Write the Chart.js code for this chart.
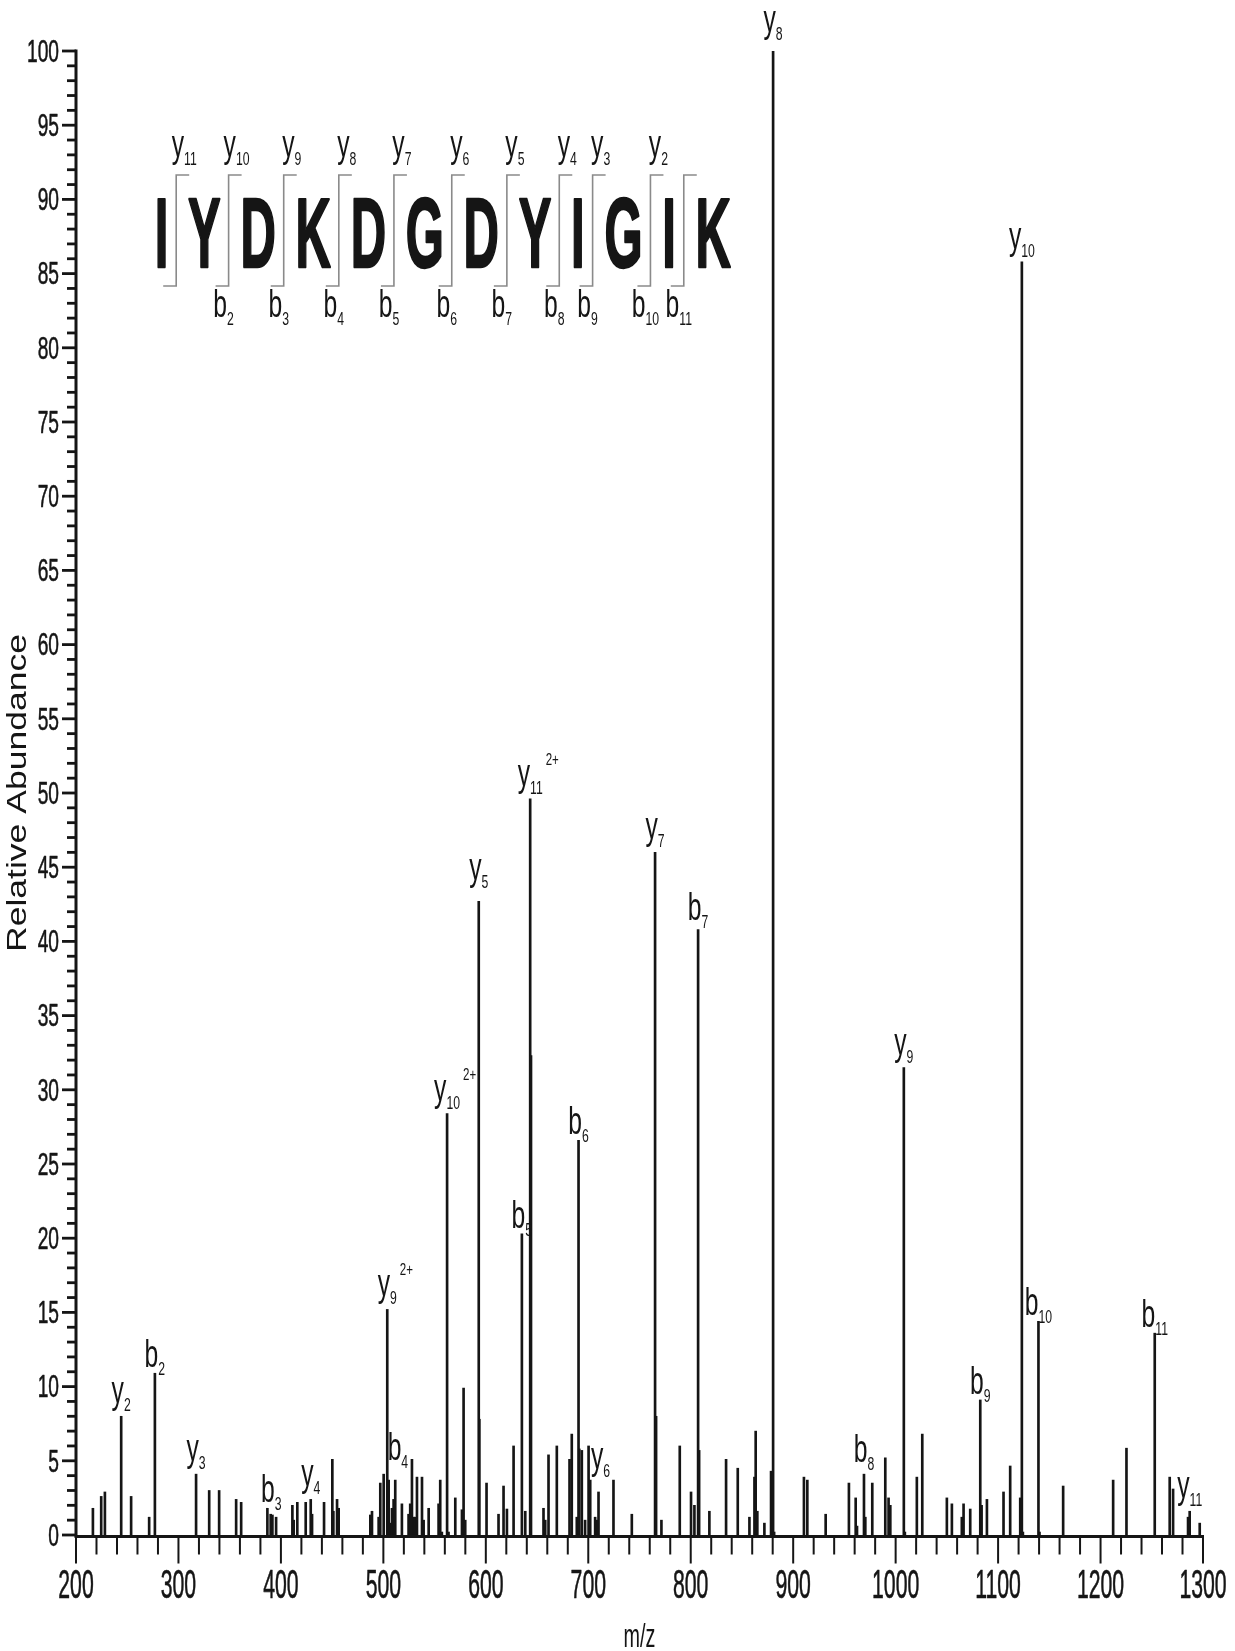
<!DOCTYPE html>
<html>
<head>
<meta charset="utf-8">
<title>MS/MS spectrum IYDKDGDYIGIK</title>
<script src="https://cdn.jsdelivr.net/npm/chart.js@4.4.0/dist/chart.umd.min.js"></script>
<style>
  html, body { margin: 0; padding: 0; background: #ffffff; }
  canvas { display: block; }
</style>
</head>
<body>
<canvas id="spectrum" width="1235" height="1651"></canvas>
<script>
// ---- spectrum data: centroided peaks (m/z, relative abundance %) ----
const peakMz = [
  216.5, 224.6, 228.2, 244.1, 253.8, 271.4, 277.0, 317.2, 330.0, 339.7,
  356.3, 361.2, 386.8, 390.0, 391.7, 395.3, 411.2, 412.5, 416.0, 424.2,
  429.1, 430.4, 442.1, 450.2, 451.2, 454.8, 456.4, 487.3, 488.9, 495.4,
  497.0, 500.3, 503.8, 505.2, 506.8, 508.4, 510.0, 511.6, 518.1, 524.6,
  526.2, 527.9, 529.5, 531.1, 532.8, 537.7, 539.3, 544.2, 553.9, 555.5,
  557.1, 562.2, 563.6, 570.2, 576.7, 578.3, 579.9, 593.1, 593.7, 600.7,
  612.4, 617.3, 620.6, 627.1, 635.2, 638.5, 643.3, 644.1, 656.3, 658.0,
  661.2, 669.3, 681.7, 683.9, 688.8, 690.5, 691.2, 693.7, 696.9, 700.3,
  701.9, 706.7, 708.3, 710.0, 724.6, 742.5, 765.2, 766.2, 771.4, 789.3,
  800.3, 803.6, 807.2, 808.2, 818.2, 834.5, 845.9, 857.3, 862.2, 863.4,
  865.0, 871.9, 878.4, 880.4, 881.4, 910.5, 913.8, 931.7, 954.4, 961.0,
  962.3, 969.1, 970.4, 977.2, 989.9, 993.1, 994.8, 1008.0, 1009.0, 1020.7,
  1026.0, 1050.0, 1054.9, 1064.6, 1066.3, 1072.8, 1082.6, 1083.9, 1089.1, 1105.3,
  1111.8, 1121.6, 1123.2, 1124.2, 1139.4, 1140.4, 1163.5, 1212.3, 1225.3, 1252.9,
  1267.5, 1270.8, 1285.4, 1287.0, 1296.8
];
const peakAbundance = [
  1.8, 2.6, 2.9, 8.0, 2.6, 1.2, 10.9, 4.1, 3.0, 3.0,
  2.4, 2.2, 1.8, 1.4, 1.35, 1.2, 2.0, 1.0, 2.2, 2.2,
  2.4, 1.4, 2.2, 5.1, 1.6, 2.4, 1.8, 1.35, 1.6, 1.2,
  3.5, 4.1, 15.2, 3.7, 0.8, 1.8, 2.4, 3.7, 2.1, 1.4,
  2.1, 5.1, 1.2, 1.2, 3.9, 3.9, 1.0, 1.8, 2.1, 3.7,
  0.2, 28.4, 0.2, 2.5, 1.7, 9.9, 1.0, 42.7, 7.8, 3.5,
  1.4, 3.3, 1.75, 6.0, 20.3, 1.6, 49.6, 32.3, 1.8, 1.0,
  5.4, 6.0, 5.1, 6.8, 1.2, 26.6, 5.8, 5.7, 1.0, 6.0,
  3.7, 1.2, 1.0, 2.9, 3.7, 1.4, 46.0, 8.0, 1.0, 6.0,
  2.9, 2.0, 40.8, 5.7, 1.6, 5.1, 4.5, 1.2, 3.9, 7.0,
  1.6, 0.8, 4.3, 100.0, 0.2, 3.9, 3.7, 1.4, 3.5, 2.5,
  0.6, 4.1, 1.2, 3.5, 5.2, 2.5, 2.0, 31.5, 0.2, 3.9,
  6.8, 2.5, 2.1, 1.2, 2.1, 1.75, 9.1, 2.0, 2.4, 2.9,
  4.65, 2.5, 85.8, 0.2, 14.4, 0.2, 3.3, 3.7, 5.85, 13.6,
  3.9, 3.1, 1.2, 1.6, 0.8
];

// ---- axes ----
const xTickValues = [200, 300, 400, 500, 600, 700, 800, 900, 1000, 1100, 1200, 1300];
const yTickValues = [0, 5, 10, 15, 20, 25, 30, 35, 40, 45, 50, 55, 60, 65, 70, 75, 80, 85, 90, 95, 100];
const xTitle = 'm/z';
const yTitle = 'Relative Abundance';

// ---- assigned fragment ions (series letter, index, charge, m/z, abundance) ----
const ionSeries = ['y', 'b', 'y', 'b', 'y', 'y', 'b', 'y', 'y', 'b', 'y', 'b',
                   'y', 'y', 'b', 'y', 'b', 'y', 'b', 'y', 'b', 'b', 'y'];
const ionNumber = ['2', '2', '3', '3', '4', '9', '4', '10', '5', '5', '11', '6',
                   '6', '7', '7', '8', '8', '9', '9', '10', '10', '11', '11'];
const ionCharge = ['', '', '', '', '', '2+', '', '2+', '', '', '2+', '',
                   '', '', '', '', '', '', '', '', '', '', ''];
const ionMz = [244.1, 277.0, 317.2, 386.8, 429.1, 503.8, 518.1, 562.2, 593.1, 635.2, 643.3, 690.5,
               710.0, 765.2, 807.2, 880.4, 969.1, 1008.0, 1082.6, 1123.2, 1139.4, 1252.9, 1287.0];
const ionAbundance = [8.0, 10.9, 4.1, 1.8, 2.4, 15.2, 2.1, 28.4, 42.7, 20.3, 49.6, 26.6,
                      2.9, 46.0, 40.8, 100.0, 4.1, 31.5, 9.1, 85.8, 14.4, 13.6, 1.6];

// ---- peptide sequence with cleavage labels ----
const residues = ['I', 'Y', 'D', 'K', 'D', 'G', 'D', 'Y', 'I', 'G', 'I', 'K'];
const yFragments = ['11', '10', '9', '8', '7', '6', '5', '4', '3', '2', ''];
const bFragments = ['', '2', '3', '4', '5', '6', '7', '8', '9', '10', '11'];

// ---- styling ----
const INK = '#151515';
const FONT = '"Liberation Sans", Arial, Helvetica, sans-serif';
// per-label pixel adjustments [dx, dy] keyed by ion index
const labelNudge = { 3: [4, 0], 6: [-4, -38], 8: [0, -8], 12: [2, -10], 14: [0, -4], 15: [0, -6], 16: [0, -6] };

function drawText(ctx, s, x, y, o) {
  ctx.save();
  ctx.font = (o.weight || 'normal') + ' ' + o.size + 'px ' + FONT;
  ctx.fillStyle = o.color || INK;
  ctx.textAlign = o.align || 'left';
  ctx.textBaseline = o.baseline || 'alphabetic';
  ctx.translate(x, y);
  if (o.rotate) ctx.rotate(o.rotate);
  ctx.scale(o.sx || 1, o.sy || 1);
  if (o.stroke) {
    ctx.strokeStyle = o.color || INK;
    ctx.lineWidth = o.stroke;
    ctx.lineJoin = 'round';
    ctx.strokeText(s, 0, 0);
  }
  ctx.fillText(s, 0, 0);
  ctx.restore();
}
function textWidth(ctx, s, o) {
  ctx.save();
  ctx.font = (o.weight || 'normal') + ' ' + o.size + 'px ' + FONT;
  const w = ctx.measureText(s).width * (o.sx || 1);
  ctx.restore();
  return w;
}

const MAIN = { size: 38, sx: 0.65 };
const SUB = { size: 18, sx: 0.68 };

// ion label: letter with subscript index and optional charge superscript, centred on cx
function drawIon(ctx, letter, index, charge, cx, base) {
  const w1 = textWidth(ctx, letter, MAIN);
  const w2 = textWidth(ctx, index, SUB);
  const left = cx - (w1 + w2) / 2;
  drawText(ctx, letter, left, base, MAIN);
  drawText(ctx, index, left + w1, base + 8, SUB);
  if (charge) drawText(ctx, charge, left + w1 + w2 + 3, base - 21, { size: 16, sx: 0.72 });
}

const spectrumDecor = {
  id: 'spectrumDecor',
  beforeDraw(chart) {
    const ctx = chart.ctx;
    ctx.save();
    ctx.fillStyle = '#ffffff';
    ctx.fillRect(0, 0, chart.width, chart.height);
    ctx.restore();
  },
  afterDraw(chart) {
    const ctx = chart.ctx;
    const xs = chart.scales.x, ys = chart.scales.y;
    const x0 = xs.getPixelForValue(200), x1 = xs.getPixelForValue(1300);
    const yBase = ys.getPixelForValue(0), yTop = ys.getPixelForValue(100);
    ctx.save();
    ctx.strokeStyle = INK;
    ctx.lineCap = 'butt';

    // y axis line, ticks every 1, long ticks every 5
    ctx.lineWidth = 3;
    ctx.beginPath();
    ctx.moveTo(x0, yBase + 1.5); ctx.lineTo(x0, yTop - 1.5);
    ctx.stroke();
    ctx.lineWidth = 2.8;
    for (let v = 0; v <= 100; v++) {
      const yy = ys.getPixelForValue(v);
      const len = v % 5 === 0 ? 14 : 9;
      ctx.beginPath(); ctx.moveTo(x0 - len, yy); ctx.lineTo(x0, yy); ctx.stroke();
    }
    yTickValues.forEach(v => {
      drawText(ctx, String(v), x0 - 17, ys.getPixelForValue(v) + 2,
        { size: 32, sx: 0.6, align: 'right', baseline: 'middle', stroke: 0.6 });
    });

    // x axis line, ticks every 20, long ticks every 100
    ctx.lineWidth = 3;
    ctx.beginPath();
    ctx.moveTo(x0 - 1.5, yBase + 1.5); ctx.lineTo(x1 + 1, yBase + 1.5);
    ctx.stroke();
    ctx.lineWidth = 2;
    for (let v = 200; v <= 1300; v += 20) {
      const xx = xs.getPixelForValue(v);
      const len = v % 100 === 0 ? 27 : 18;
      ctx.beginPath(); ctx.moveTo(xx, yBase + 1.5); ctx.lineTo(xx, yBase + 1.5 + len); ctx.stroke();
    }
    xTickValues.forEach(v => {
      drawText(ctx, String(v), xs.getPixelForValue(v), yBase + 63,
        { size: 40, sx: 0.53, align: 'center', stroke: 0.6 });
    });

    // axis titles
    drawText(ctx, xTitle, (x0 + x1) / 2, chart.height - 4, { size: 33, sx: 0.6, align: 'center' });
    const tw = textWidth(ctx, yTitle, { size: 27 });
    drawText(ctx, yTitle, 19, (yBase + yTop) / 2,
      { size: 27, sx: 318 / tw, align: 'center', baseline: 'middle', rotate: -Math.PI / 2 });

    // fragment ion labels above their peaks
    ionSeries.forEach((s, i) => {
      const px = xs.getPixelForValue(ionMz[i]);
      const top = ys.getPixelForValue(ionAbundance[i]);
      const nudge = labelNudge[i] || [0, 0];
      const base = top - (s === 'y' ? 13 : 6) + nudge[1];
      drawIon(ctx, s, ionNumber[i], ionCharge[i], px + nudge[0], base);
    });

    // peptide sequence with cleavage brackets
    const SEQ = { size: 98, sx: 0.5, weight: 'bold', stroke: 2.4 };
    const widths = residues.map(r => textWidth(ctx, r, SEQ));
    const seqLeft = 154.7, seqRight = 731;
    const total = widths.reduce((a, b) => a + b, 0);
    const gap = (seqRight - seqLeft - total) / (residues.length - 1);
    const seqBase = 267, bracketTop = 175, bracketBottom = 286, arm = 13;
    let cursor = seqLeft;
    residues.forEach((r, i) => {
      drawText(ctx, r, cursor + widths[i] / 2, seqBase, Object.assign({ align: 'center' }, SEQ));
      cursor += widths[i];
      if (i < residues.length - 1) {
        const bx = cursor + gap * 0.4;
        ctx.strokeStyle = '#8a8a8a';
        ctx.lineWidth = 1.6;
        ctx.beginPath();
        ctx.moveTo(bx + arm, bracketTop); ctx.lineTo(bx, bracketTop);
        ctx.lineTo(bx, bracketBottom); ctx.lineTo(bx - arm, bracketBottom);
        ctx.stroke();
        if (yFragments[i]) drawIon(ctx, 'y', yFragments[i], '', bx + 8, 157);
        if (bFragments[i]) drawIon(ctx, 'b', bFragments[i], '', bx - 5, 317);
        cursor += gap;
      }
    });
    ctx.restore();
  }
};

const points = peakMz.map((m, i) => ({ x: m, y: peakAbundance[i] }));

new Chart(document.getElementById('spectrum'), {
  type: 'bar',
  data: {
    datasets: [{
      data: points,
      backgroundColor: INK,
      borderWidth: 0,
      barThickness: 2,
      grouped: false
    }]
  },
  options: {
    responsive: false,
    animation: false,
    devicePixelRatio: 1,
    layout: { padding: { left: 76, right: 32, top: 51, bottom: 116 } },
    plugins: { legend: { display: false }, tooltip: { enabled: false } },
    scales: {
      x: { type: 'linear', min: 200, max: 1300, offset: false, display: false },
      y: { type: 'linear', min: 0, max: 100, display: false }
    }
  },
  plugins: [spectrumDecor]
});
</script>
</body>
</html>
